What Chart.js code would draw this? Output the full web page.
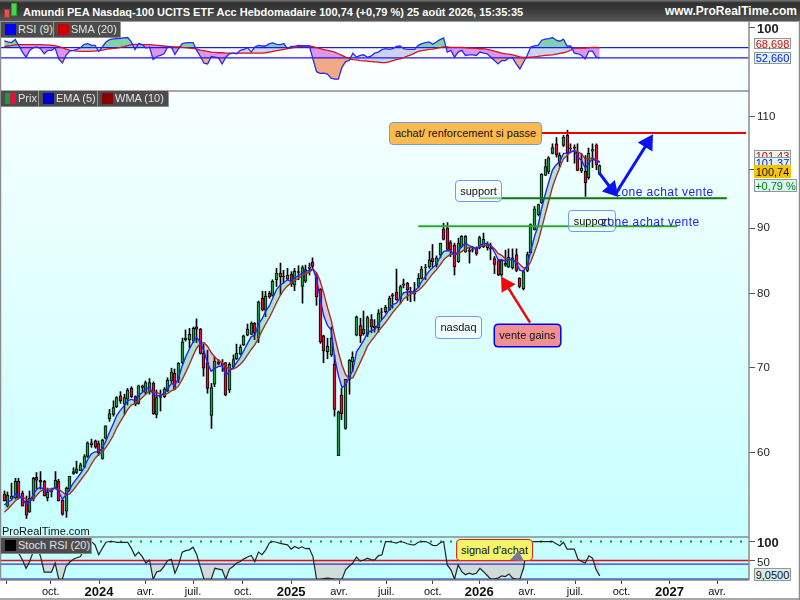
<!DOCTYPE html>
<html lang="fr"><head><meta charset="utf-8">
<script src="https://cdn.jsdelivr.net/npm/chart.js@4"></script>
<style>
html,body{margin:0;padding:0;background:#fff;overflow:hidden}
#wrap{position:relative;width:800px;height:600px;overflow:hidden;font-family:"Liberation Sans",Arial,sans-serif}
canvas{position:absolute;left:0;top:0}
.abs{position:absolute;white-space:nowrap;box-sizing:border-box}
#bar{left:0;top:0;width:800px;height:22px;background:linear-gradient(#7a7a7a 0,#2f2f2f 3px,#3a3a3a 10px,#565656 21px);border-bottom:1px solid #999}
.ttl{top:5px;color:#fff;font-weight:bold;font-size:11px;line-height:14px}
.chip{background:#4c4c4c;color:#e4e4e4;font-size:11px;line-height:15px;height:16px;padding-left:17px;border-right:1px solid #999;border-bottom:1px solid #888}
.sw{position:absolute;left:4px;top:2px;width:11px;height:11px}
.note{border-radius:4px;font-size:11px;color:#111;text-align:center;line-height:20px;border:1px solid #6a9cff}
.zone{color:#2222ff;font-size:12px;letter-spacing:.45px;line-height:15px}
.val{font-size:11px;line-height:11px;text-align:center;border:1px solid #8d9a9a;height:12px;width:37px;left:754px}
</style></head><body>
<div id="wrap">
<canvas id="c" width="800" height="600"></canvas>
<div class="abs" id="bar"></div>
<div class="abs" style="left:4px;top:9px;width:6px;height:9px;background:#e8504a;border:1px solid #a33"></div>
<div class="abs" style="left:11px;top:3px;width:6px;height:13px;background:#4fd04f;border:1px solid #2a2"></div>
<div class="abs ttl" style="left:23px">Amundi PEA Nasdaq-100 UCITS ETF Acc Hebdomadaire 100,74 (+0,79 %) 25 août 2026, 15:35:35</div>
<div class="abs ttl" style="right:3px;font-size:12px;top:4px">www.ProRealTime.com</div>

<div class="abs chip" style="left:1px;top:22px;width:53px"><i class="sw" style="background:#0000ff"></i>RSI (9)</div>
<div class="abs chip" style="left:54px;top:22px;width:67px"><i class="sw" style="background:#cc0000"></i>SMA (20)</div>
<div class="abs chip" style="left:1px;top:91px;width:38px"><i class="sw" style="background:linear-gradient(90deg,#109a4a 50%,#dc143c 50%)"></i>Prix</div>
<div class="abs chip" style="left:39px;top:91px;width:59px"><i class="sw" style="background:#0000cc"></i>EMA (5)</div>
<div class="abs chip" style="left:98px;top:91px;width:71px"><i class="sw" style="background:#8b0000"></i>WMA (10)</div>
<div class="abs chip" style="left:1px;top:538px;width:91px;background:#4c4c4c"><i class="sw" style="background:#000"></i>Stoch RSI (20)</div>
<div class="abs" style="left:2px;top:525px;font-size:11px;color:#111;line-height:13px">ProRealTime.com</div>

<div class="abs note" style="left:389px;top:122px;width:153px;height:23px;background:#ffba4d;line-height:21px">achat/ renforcement si passe</div>
<div class="abs note" style="left:455px;top:180px;width:47px;height:22px;background:rgba(255,255,255,.55)">support</div>
<div class="abs note" style="left:568px;top:210px;width:48px;height:22px;background:rgba(255,255,255,.35)">support</div>
<div class="abs note" style="left:435px;top:316px;width:47px;height:23px;background:rgba(255,255,255,.6)">nasdaq</div>
<div class="abs note" style="left:494px;top:324px;width:67px;height:23px;background:#f09090;border:1px solid #0000ee;box-shadow:0 0 0 .5px #0000ee">vente gains</div>
<div class="abs zone" style="left:615px;top:185px">zone achat vente</div>
<div class="abs zone" style="left:601px;top:215px">zone achat vente</div>
<div class="abs note" style="left:456px;top:539px;width:77px;height:22px;background:#f4f46c;border:1px solid #ee2211">signal d'achat</div>
<div class="abs" style="left:510px;top:551px;width:14px;height:10px;background:#77779a;clip-path:polygon(60% 0,100% 100%,0 90%)"></div>

<div class="abs val" style="top:38px;height:11px;background:#f1f4ec;color:#cc1111;top:38px">68,698</div>
<div class="abs val" style="top:52px;background:#d9f6f6;color:#1111dd">52,660</div>
<div class="abs val" style="top:150px;background:#f1f4ec;color:#aa1111">101,43</div>
<div class="abs val" style="top:157px;background:#d9f6f6;color:#1111bb">101,37</div>
<div class="abs val" style="top:165px;height:13px;background:#f7c500;color:#111;border-color:#f7c500;line-height:12px">100,74</div>
<div class="abs val" style="top:179px;height:13px;width:43px;background:#d8f8ee;color:#0a7a1a;line-height:12px">+0,79 %</div>
<div class="abs val" style="top:568px;height:13px;background:#d8ecec;color:#111;line-height:12px">9,0500</div>

<script>
const opens=[
55.7,54.5,55.2,55.3,57.0,55.8,55.0,53.9,55.2,57.4,
57.1,57.0,55.3,56.0,56.3,57.0,55.1,54.0,56.2,57.8,
57.9,58.1,58.5,59.6,60.9,61.3,61.0,59.4,61.6,63.8,
64.3,65.2,66.5,65.5,66.1,67.4,66.4,65.6,67.5,66.9,
67.0,68.0,64.3,66.3,66.4,67.1,68.3,69.3,68.5,70.6,
73.6,73.6,73.4,75.3,75.0,71.8,70.6,64.2,67.9,70.7,
70.5,70.6,67.2,70.1,71.1,71.7,72.9,74.2,74.3,75.8,
73.8,79.3,77.6,80.0,79.7,82.0,83.0,82.5,82.1,82.8,
81.2,83.2,81.0,81.8,83.7,84.6,82.8,80.6,74.1,72.0,
71.6,70.4,59.7,66.6,62.7,68.5,70.7,74.2,75.5,74.4,
74.3,76.3,75.4,75.2,77.3,77.4,77.7,79.6,80.2,79.2,
81.2,81.5,80.3,79.9,81.0,82.2,83.8,83.9,85.2,84.2,
85.7,89.9,90.0,87.7,87.3,84.7,87.0,86.2,86.3,86.5,
86.9,86.9,87.0,86.9,86.8,85.2,84.9,82.7,84.2,83.9,
83.8,85.8,82.2,80.7,83.4,86.1,89.7,92.2,94.2,99.0,
99.6,103.0,104.8,101.2,104.5,106.4,104.0,104.2,103.3,99.8,
99.7,98.6,103.4,104.6,99.4];
const highs=[
56.0,55.9,56.8,57.3,57.3,56.0,55.5,56.0,57.4,57.9,
58.0,57.1,56.3,56.3,58.0,57.2,55.2,56.4,57.5,58.4,
59.1,58.9,59.8,61.2,61.5,61.4,61.3,61.5,63.0,64.9,
65.9,66.4,67.0,66.7,67.4,67.6,66.5,67.8,67.8,68.3,
68.6,68.2,67.2,67.2,67.5,68.7,69.9,69.8,70.6,73.8,
74.9,75.1,75.3,76.4,75.1,73.0,72.2,68.0,71.4,71.0,
71.0,70.6,70.6,71.6,73.0,72.9,74.2,75.7,76.0,75.9,
78.9,80.3,80.3,80.3,82.0,83.7,84.5,83.4,83.7,83.2,
83.7,84.1,84.1,84.2,84.5,85.3,83.0,80.7,74.2,73.8,
75.3,71.6,64.7,67.4,68.5,71.0,72.0,76.8,76.5,77.5,
76.8,77.0,76.3,77.7,77.9,78.3,79.6,80.0,83.6,81.2,
82.1,81.6,80.9,81.6,82.9,84.0,84.3,86.3,87.4,85.6,
87.6,90.8,90.9,88.0,87.6,88.4,88.8,88.8,86.8,87.0,
87.0,88.7,89.2,87.8,87.6,85.5,85.0,85.0,86.5,86.7,
86.7,86.7,82.3,83.4,86.2,90.7,93.6,94.0,99.3,101.9,
102.4,104.8,106.0,103.1,106.4,107.4,104.8,104.6,104.8,103.0,
102.6,104.0,104.8,104.8,100.9];
const lows=[
55.0,54.4,55.2,55.2,55.2,54.5,53.3,53.9,55.0,56.2,
56.2,55.5,55.0,55.4,56.2,55.0,53.6,53.4,56.0,57.7,
57.8,58.1,58.4,59.5,60.6,60.5,59.7,59.3,61.5,63.5,
64.1,65.1,65.6,64.3,65.4,66.3,65.3,65.5,67.0,66.7,
66.7,64.3,63.9,64.7,66.3,67.0,68.1,67.2,68.1,70.4,
73.4,72.5,73.2,73.2,71.7,68.9,66.8,62.7,67.6,70.3,
69.5,66.5,66.9,69.9,71.0,71.6,72.8,74.1,74.3,73.6,
73.2,77.5,76.7,79.3,79.6,81.0,79.8,81.5,82.0,81.0,
80.4,82.0,78.6,81.6,82.7,83.7,78.3,73.1,70.6,71.1,
71.4,64.1,59.7,63.7,62.6,66.7,69.5,74.1,73.2,74.2,
74.0,74.5,74.6,74.6,76.3,77.2,77.6,77.9,79.0,78.5,
80.8,79.0,78.8,78.9,80.8,82.1,82.0,83.7,83.9,83.9,
85.3,88.1,86.5,85.5,82.7,84.6,86.9,86.2,84.5,86.2,
85.7,86.7,86.9,86.5,85.0,82.9,82.6,82.5,84.0,83.8,
83.6,83.2,80.8,80.5,83.2,86.0,89.7,92.0,94.1,99.0,
99.3,102.9,102.3,100.6,104.3,101.5,103.4,101.2,99.8,99.5,
95.3,98.3,100.4,100.0,99.1];
const closes=[
55.0,55.6,55.5,57.0,55.3,54.5,53.6,55.3,57.3,57.1,
56.9,55.5,55.9,55.9,57.1,55.0,53.7,56.3,57.5,58.0,
58.3,58.7,59.6,61.1,61.1,60.6,60.0,61.4,63.0,64.4,
65.1,66.3,65.9,66.3,67.2,66.4,65.5,67.7,67.7,68.1,
68.1,64.4,66.3,66.4,67.3,68.4,69.4,67.3,70.5,73.3,
73.8,74.3,75.1,75.0,71.8,69.9,67.4,67.5,70.8,70.4,
70.3,66.6,70.4,71.0,71.8,72.6,74.1,75.0,75.8,74.5,
78.8,77.7,79.6,79.5,81.8,83.0,82.4,82.4,82.7,81.4,
83.3,83.1,83.8,83.5,83.9,84.0,79.5,73.3,72.1,72.7,
73.8,64.9,64.6,64.4,68.5,70.9,71.3,76.7,74.1,75.0,
76.6,75.3,75.2,77.2,77.4,78.0,79.3,79.8,79.1,81.0,
81.4,80.5,80.2,80.4,82.2,83.6,83.9,85.0,84.7,85.3,
87.6,88.2,86.6,86.5,83.9,87.6,88.7,88.7,86.5,86.6,
85.9,88.5,88.2,87.4,86.7,84.3,82.7,84.9,84.5,85.4,
85.3,83.4,81.0,83.2,85.8,90.6,93.2,93.9,99.2,100.6,
102.2,104.1,102.7,102.7,106.1,103.1,103.9,104.0,99.9,100.3,
97.7,103.0,103.7,100.9,100.74];
const ema5=[
54.6,54.9,55.1,55.7,55.6,55.2,54.7,54.9,55.7,56.2,
56.4,56.1,56.0,56.0,56.4,55.9,55.2,55.6,56.2,56.8,
57.3,57.8,58.4,59.3,59.9,60.1,60.1,60.5,61.3,62.3,
63.2,64.2,64.8,65.3,65.9,66.1,65.9,66.5,66.9,67.3,
67.6,66.6,66.5,66.5,66.8,67.3,68.0,67.8,68.7,70.2,
71.4,72.4,73.3,73.9,73.2,72.1,70.5,69.5,69.9,70.1,
70.2,69.0,69.5,70.0,70.6,71.3,72.2,73.1,74.0,74.2,
75.7,76.4,77.5,78.2,79.4,80.6,81.2,81.6,82.0,81.8,
82.3,82.6,83.0,83.2,83.4,83.6,82.2,79.2,76.8,75.5,
74.9,71.2,69.0,67.5,67.8,68.8,69.6,72.0,72.7,73.5,
74.5,74.8,74.9,75.7,76.3,76.9,77.7,78.4,78.6,79.4,
80.1,80.2,80.2,80.3,80.9,81.8,82.5,83.3,83.8,84.3,
85.4,86.3,86.4,86.4,85.6,86.3,87.1,87.6,87.2,87.0,
86.6,87.2,87.6,87.5,87.2,86.2,85.0,85.0,84.8,85.0,
85.1,84.5,83.4,83.3,84.1,86.3,88.6,90.4,93.3,95.7,
97.9,100.0,100.9,101.5,103.0,103.0,103.3,103.5,102.3,101.7,
100.3,101.2,102.0,101.6,101.37];
const wma10=[
53.9,54.2,54.6,55.0,55.3,55.4,55.2,55.0,55.2,55.6,
56.0,56.1,56.2,56.2,56.3,56.2,55.9,55.6,55.7,56.1,
56.6,57.1,57.6,58.1,58.8,59.4,59.8,60.1,60.6,61.2,
61.9,62.8,63.5,64.2,64.9,65.4,65.6,65.9,66.3,66.7,
67.1,67.0,66.9,66.7,66.6,66.8,67.1,67.3,67.7,68.5,
69.4,70.4,71.5,72.5,73.1,73.2,72.7,71.9,71.3,70.9,
70.6,70.1,69.8,69.8,70.0,70.4,70.9,71.6,72.3,72.9,
73.8,74.8,75.7,76.6,77.6,78.7,79.7,80.5,81.1,81.5,
81.9,82.2,82.6,82.9,83.1,83.6,83.0,81.8,80.0,78.0,
76.3,74.0,72.0,70.3,69.1,68.6,68.7,69.6,70.6,71.6,
72.7,73.4,74.0,74.7,75.3,75.9,76.6,77.3,77.9,78.5,
79.2,79.6,79.9,80.1,80.4,80.9,81.5,82.2,82.9,83.5,
84.2,85.0,85.5,85.9,85.8,85.9,86.3,86.7,86.9,86.9,
86.8,87.0,87.2,87.3,87.2,86.7,86.0,85.7,85.2,85.1,
85.0,84.8,84.3,83.8,83.8,84.7,86.2,87.8,90.0,92.3,
94.6,97.0,98.8,100.4,102.0,102.6,103.2,103.6,103.3,102.9,
102.0,102.0,102.2,101.9,101.43];
const rsi9=[
79.1,77.5,76.5,81.2,72.2,61.7,53.7,64.3,68.5,69.6,
66.9,59.0,64.3,64.3,68.0,51.0,44.7,56.4,63.2,64.3,
65.9,68.5,73.8,74.9,72.2,72.2,62.7,69.6,77.5,81.2,
82.3,82.8,83.3,83.9,84.4,77.5,65.4,74.9,73.3,68.0,
69.6,50.0,54.8,56.4,59.0,69.6,69.6,58.0,66.9,74.9,
75.9,76.5,76.5,64.3,54.8,44.2,43.1,54.8,53.7,52.7,
43.1,53.7,59.0,60.0,59.0,64.3,65.9,68.5,61.7,69.6,
72.2,71.2,71.2,74.9,75.9,73.8,73.3,74.9,66.9,70.7,
70.7,72.2,71.7,71.7,71.2,51.0,31.0,28.3,28.8,27.3,
20.9,19.3,19.3,37.8,46.8,48.4,60.0,53.7,56.4,57.4,
53.7,55.3,60.0,61.7,65.4,66.9,65.9,66.9,70.7,71.2,
66.9,65.9,65.9,65.9,72.2,74.9,76.5,77.5,73.8,77.5,
81.2,83.9,61.7,64.3,53.7,61.7,64.3,56.4,57.4,57.4,
56.4,61.7,60.0,59.0,53.7,48.4,43.1,48.4,48.4,52.7,
52.7,43.1,35.2,45.8,56.4,69.6,71.2,72.2,80.2,81.8,
82.8,84.4,80.2,78.6,81.8,71.2,71.2,60.0,59.0,56.4,
51.0,63.2,63.2,53.7,52.66];
const sma20=[
70.1,71.2,71.7,72.8,73.3,73.3,73.3,73.3,73.3,73.3,
73.3,72.8,72.8,72.2,71.7,70.1,68.5,66.4,64.8,63.8,
63.2,62.7,62.7,62.7,63.2,63.2,63.8,64.8,65.9,66.9,
67.5,68.0,69.0,70.1,71.7,73.3,73.8,73.8,73.3,73.3,
73.3,72.8,72.2,71.7,71.2,70.7,70.1,69.6,69.6,69.0,
68.5,68.0,67.5,66.4,64.8,63.8,62.7,61.7,61.1,60.6,
60.6,60.0,60.0,60.0,60.0,60.0,60.0,60.0,60.0,60.0,
60.0,60.0,60.6,61.7,62.7,63.8,64.8,65.9,66.9,68.0,
69.0,70.1,70.7,71.2,71.2,70.1,68.5,66.9,65.4,64.3,
63.2,61.7,59.0,56.4,53.7,51.6,50.0,49.5,48.4,47.9,
47.4,46.8,46.3,45.8,45.2,45.2,46.3,48.4,50.0,51.0,
53.2,55.3,57.4,60.0,62.7,63.8,64.8,65.9,66.4,67.5,
68.5,69.6,69.6,69.0,69.0,69.0,69.0,68.5,68.0,68.0,
67.5,66.9,66.9,65.9,64.8,63.2,61.7,60.0,59.0,58.5,
57.4,55.8,54.2,53.2,53.2,53.7,54.2,54.8,55.8,56.4,
56.9,57.4,58.5,59.5,60.6,62.2,64.8,68.0,68.0,68.0,
68.0,68.5,69.0,69.0,68.698];
const stochRsi=[
90,90,90,90,69,51,29,47,74,87,
60,19,19,19,43,0,0,34,45,53,
57,60,82,100,100,91,65,82,98,100,
100,98,98,98,98,82,62,72,60,43,
51,0,20,22,34,50,53,16,38,72,
76,78,85,65,32,0,0,0,29,27,
25,0,27,34,43,47,54,59,63,47,
72,65,78,96,100,98,95,93,91,80,
87,82,86,81,82,60,0,0,2,3,
2,0,0,0,25,35,43,59,48,51,
56,52,51,62,65,100,100,98,96,100,
98,94,92,91,98,100,100,96,90,89,
96,100,38,25,0,38,20,12,16,13,
16,29,20,10,0,1,3,9,7,14,
3,0,0,29,91,100,100,100,100,100,
100,100,94,89,98,80,80,80,53,47,
43,62,56,25,9.05];

const rsiLevels=[68.698,52.660];
const stochTop=100, stochMid=50, stochLow=40, stochZero=0;
const mainTicks=[110,100,90,80,70,60];
const rsiTicks=[100];
const stochTicks=[100,50];
const xTickPositions=[0.5,12.8,26.1,38.9,52,65.7,79,92.2,105.2,118,130.8,144,157.2,170,183.2,196.3];
const xTickLabels=['','oct.','2024','avr.','juil.','oct.','2025','avr.','juil.','oct.','2026','avr.','juil.','oct.','2027','avr.'];
const resistance={price:106.85,from:148,to:204.3};
const supportHigh={price:95.0,from:130.8,to:199};
const supportLow={price:90.3,from:114,to:185.3};
const blueArrowA=[{x:163.8,y:99.5},{x:167.3,y:96.5}];
const blueArrowB=[{x:168.5,y:95.9},{x:177.2,y:105.0}];
const redArrow=[{x:144.8,y:75.9},{x:138.2,y:81.3}];

const XMIN=-1.18,XMAX=205.1;
const idx=closes.map((_,i)=>i);
const pts=a=>a.map((v,i)=>({x:i,y:v}));
const hline=(v,a=XMIN,b=XMAX)=>[{x:a,y:v},{x:b,y:v}];
const GREEN='#14a34a',RED='#e0103c';
const line=(id,data,color,w,extra)=>Object.assign({type:'line',yAxisID:id,data,borderColor:color,borderWidth:w,pointRadius:0,tension:0,fill:false},extra||{});

const datasets=[
 {type:'bar',yAxisID:'yMain',grouped:false,order:50,barThickness:1,backgroundColor:'#000',borderWidth:0,data:idx.map(i=>({x:i,y:[lows[i],highs[i]]}))},
 {type:'bar',yAxisID:'yMain',grouped:false,order:40,barThickness:3,borderColor:'#000',borderWidth:1,borderSkipped:false,
  backgroundColor:idx.map(i=>closes[i]>=opens[i]?GREEN:RED),data:idx.map(i=>({x:i,y:[opens[i],closes[i]]}))},
 line('yMain',pts(wma10),'#b02a2a',1.4,{order:21}),
 line('yMain',pts(ema5),'#2424f0',1.4,{order:20,fill:{target:2,above:'rgba(30,140,70,.26)',below:'rgba(170,30,70,.22)'}}),
 line('yMain',hline(resistance.price,resistance.from,resistance.to),'#ee0000',2,{order:6}),
 line('yMain',hline(supportHigh.price,supportHigh.from,supportHigh.to),'#0a7a0a',2,{order:6}),
 line('yMain',hline(supportLow.price,supportLow.from,supportLow.to),'#2aaa2a',2,{order:6}),
 line('yMain',blueArrowA,'#0a14ee',3,{order:5,pointStyle:'triangle',pointRadius:[0,7],pointRotation:138,pointBackgroundColor:'#0a14ee',pointBorderColor:'#0a14ee'}),
 line('yMain',blueArrowB,'#0a14ee',3,{order:5,pointStyle:'triangle',pointRadius:[0,7],pointRotation:32,pointBackgroundColor:'#0a14ee',pointBorderColor:'#0a14ee'}),
 line('yMain',redArrow,'#ee0a0a',2.5,{order:5,pointStyle:'triangle',pointRadius:[0,7],pointRotation:328,pointBackgroundColor:'#ee0a0a',pointBorderColor:'#ee0a0a'}),
 line('yRsi',pts(sma20),'#dd1111',1.3,{order:31}),
 line('yRsi',pts(rsi9),'#2a2af0',1.3,{order:30}),
 line('yRsi',pts(rsi9),'rgba(0,0,0,0)',0,{order:36,fill:{target:10,above:'#ccd3ee',below:'#e096e8'}}),
 line('yRsi',pts(rsi9),'rgba(0,0,0,0)',0,{order:35,fill:{target:{value:rsiLevels[1]},above:'rgba(0,0,0,0)',below:'#f2aa84'}}),
 line('yRsi',pts(rsi9),'rgba(0,0,0,0)',0,{order:34,fill:{target:{value:rsiLevels[0]},above:'#7ed3aa',below:'rgba(0,0,0,0)'}}),
 line('yRsi',hline(rsiLevels[0]),'#1a1aff',1.2,{order:33}),
 line('yRsi',hline(rsiLevels[1]),'#1a1aff',1.2,{order:33}),
 line('yStoch',pts(stochRsi),'#222',1.2,{order:60}),
 line('yStoch',pts(stochRsi),'rgba(0,0,0,0)',0,{order:70,fill:{target:{value:stochMid},above:'rgba(0,0,0,0)',below:'#cfdcd8'}}),
 line('yStoch',hline(stochTop),'#0a9a3a',2,{order:61,borderDash:[2,8]}),
 line('yStoch',hline(stochMid),'#dd1111',1.5,{order:62}),
 line('yStoch',hline(stochLow),'#3434cc',1.2,{order:63}),
 line('yStoch',hline(stochZero),'#0a2ab0',1.5,{order:64}),
];

const fixTicks=list=>s=>{s.ticks=list.map(v=>({value:v}));};
const yAxis=(weight,list,extra,labelOffset)=>Object.assign({
  position:'right',stack:'panels',stackWeight:weight,
  afterFit:s=>{s.width=51;s.paddingTop=0;s.paddingBottom=0},afterBuildTicks:fixTicks(list),
  border:{display:false},
  grid:{drawOnChartArea:false,tickLength:6,tickColor:'#555',drawTicks:true},
  ticks:{align:'center',crossAlign:'near',padding:2,labelOffset:labelOffset||0,autoSkip:false,color:'#222',
    font:c=>c.tick&&c.tick.value===100&&list.length<3?{family:'"Liberation Sans"',size:13,weight:'bold'}:{family:'"Liberation Sans"',size:11.5},callback:v=>String(v)}
},extra);

const panelsPlugin={id:'panels',
 beforeDraw(ch){const {ctx,chartArea:a}=ch;
  const g=ctx.createLinearGradient(0,a.top,0,a.bottom);
  g.addColorStop(0,'#ffffff');g.addColorStop(1,'#c2ffff');
  ctx.save();ctx.fillStyle=g;ctx.fillRect(a.left,a.top,a.right-a.left,a.bottom-a.top);ctx.restore();},
 afterDatasetsDraw(ch){const {ctx,chartArea:a,scales:s}=ch;
  ctx.save();ctx.strokeStyle='#8c8c8c';ctx.lineWidth=1.5;ctx.beginPath();
  [s.yRsi.bottom,s.yMain.bottom].forEach(y=>{ctx.moveTo(0,y);ctx.lineTo(a.right,y);});
  ctx.moveTo(a.left,a.bottom);ctx.lineTo(a.right,a.bottom);
  ctx.moveTo(a.right,a.top);ctx.lineTo(a.right,a.bottom);
  ctx.moveTo(0.5,a.top);ctx.lineTo(0.5,a.bottom);
  ctx.moveTo(0,599);ctx.lineTo(800,599);ctx.moveTo(799.5,22);ctx.lineTo(799.5,600);
  ctx.stroke();ctx.restore();},
 afterDatasetsUpdate(ch){[0,1].forEach(n=>ch.getDatasetMeta(n).data.forEach(el=>{el.x=Math.floor(el.x)+.5;}));}
};

new Chart(document.getElementById('c'),{
 type:'line',
 data:{datasets},
 plugins:[panelsPlugin],
 options:{responsive:false,animation:false,devicePixelRatio:1,
  layout:{autoPadding:false,padding:{top:22,left:0,right:0,bottom:0}},
  plugins:{legend:{display:false},tooltip:{enabled:false},title:{display:false}},
  scales:{
   x:{type:'linear',min:XMIN,max:XMAX,offset:false,position:'bottom',
      afterFit:s=>{s.height=20;s.paddingLeft=0;s.paddingRight=0},afterBuildTicks:fixTicks(xTickPositions),
      border:{display:false},grid:{drawOnChartArea:false,offset:false,tickLength:4,tickColor:'#444'},
      ticks:{autoSkip:false,maxRotation:0,padding:1,color:'#111',
        callback:(v,i)=>xTickLabels[i],
        font:c=>/^\d{4}$/.test(xTickLabels[c.index]||'')?{family:'"Liberation Sans"',size:13,weight:'bold'}:{family:'"Liberation Sans"',size:11}}},
   yRsi:yAxis(69,rsiTicks,{type:'linear',min:0.8,max:108.7},2),
   yMain:yAxis(446,mainTicks,{type:'logarithmic',min:51.54,max:115.28}),
   yStoch:yAxis(43,stochTicks,{type:'linear',min:-2,max:112},2),
  }}
});
</script>
</div>
</body></html>
